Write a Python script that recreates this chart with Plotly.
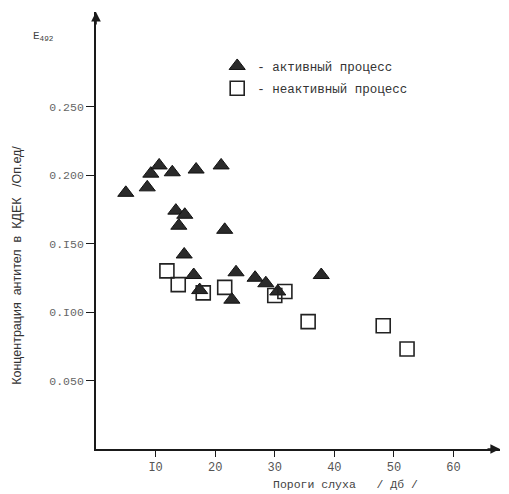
import plotly.graph_objects as go

# --- data ---
active_x = [5.0, 8.6, 9.2, 10.6, 12.8, 16.8, 21.0, 13.4, 14.9, 13.9, 21.6, 14.8,
            16.4, 17.4, 22.8, 23.5, 26.7, 28.5, 30.5, 37.8]
active_y = [0.187, 0.191, 0.201, 0.207, 0.202, 0.204, 0.207, 0.174, 0.171, 0.163, 0.160, 0.142,
            0.127, 0.116, 0.109, 0.129, 0.125, 0.121, 0.115, 0.127]
inactive_x = [11.9, 13.8, 18.0, 21.6, 30.0, 31.7, 35.6, 48.2, 52.2]
inactive_y = [0.130, 0.120, 0.114, 0.118, 0.112, 0.115, 0.093, 0.090, 0.073]

x_ticks = [10, 20, 30, 40, 50, 60]
x_tick_labels = ["I0", "20", "30", "40", "50", "60"]
y_ticks = [0.050, 0.100, 0.150, 0.200, 0.250]
y_tick_labels = ["0.050", "0.I00", "0.I50", "0.200", "0.250"]

name_active = "- активный процесс"
name_inactive = "- неактивный процесс"
x_title = "Пороги слуха   / Дб /"
y_title = "Концентрация  антител  в  КДЕК   /Оп.ед/"

XMAX = 67.8
YMAX = 0.319

mono = "Liberation Mono"
ink = "#1a1a1a"

fig = go.Figure()
fig.add_trace(go.Scatter(
    x=active_x, y=active_y, mode="markers", name=name_active, legendgroup="a",
    marker=dict(symbol="triangle-up", size=14, color="#2a2a2a",
                line=dict(color="#111", width=1)),
))
fig.add_trace(go.Scatter(
    x=inactive_x, y=inactive_y, mode="markers", name=name_inactive, legendgroup="b",
    marker=dict(symbol="square-open", size=14, color="#222",
                line=dict(width=1.6)),
))

fig.update_layout(
    width=509, height=494,
    margin=dict(l=96, r=9, t=12, b=45, autoexpand=False),
    paper_bgcolor="white", plot_bgcolor="white",
    showlegend=True,
    legend=dict(x=0.30, y=0.91, xanchor="left", yanchor="top",
                bgcolor="rgba(0,0,0,0)", font=dict(family=mono, size=12.5, color="#333"),
                itemwidth=30, tracegroupgap=3, traceorder="grouped"),
    xaxis=dict(range=[0, XMAX], showgrid=False, zeroline=False, automargin=False,
               showline=True, linecolor=ink, linewidth=1.8,
               tickmode="array", tickvals=x_ticks, ticktext=x_tick_labels,
               ticks="outside", ticklen=6, tickwidth=1.3, tickcolor=ink,
               tickfont=dict(family=mono, size=12, color="#555")),
    yaxis=dict(range=[0, YMAX], showgrid=False, zeroline=False, automargin=False,
               showline=True, linecolor=ink, linewidth=1.8,
               tickmode="array", tickvals=y_ticks, ticktext=y_tick_labels,
               ticks="outside", ticklen=8, tickwidth=1.3, tickcolor=ink,
               tickfont=dict(family=mono, size=11.5, color="#666")),
)

# axis arrows
fig.add_annotation(x=XMAX, y=0, xref="x", yref="y", ax=-14, ay=0,
                   showarrow=True, arrowhead=2, arrowsize=1.2, arrowwidth=1.6,
                   arrowcolor=ink, text="")
fig.add_annotation(x=0, y=YMAX, xref="x", yref="y", ax=0, ay=14,
                   showarrow=True, arrowhead=2, arrowsize=1.2, arrowwidth=1.6,
                   arrowcolor=ink, text="")

# titles
fig.add_annotation(x=0.618, y=-0.082, xref="paper", yref="paper",
                   xanchor="center", yanchor="middle",
                   text=x_title, showarrow=False,
                   font=dict(family=mono, size=11.5, color="#444"))
fig.add_annotation(x=-0.196, y=0.421, xref="paper", yref="paper",
                   xanchor="center", yanchor="middle",
                   text=y_title, showarrow=False, textangle=-90,
                   font=dict(family="Liberation Sans", size=12.5, color="#333"))
fig.add_annotation(x=-0.131, y=0.943, xref="paper", yref="paper",
                   xanchor="center", yanchor="middle",
                   text="E<sub>492</sub>", showarrow=False,
                   font=dict(family=mono, size=11, color="#444"))

fig.write_html("out.html", config={"displayModeBar": False},
               post_script="document.body.style.margin='0';")
